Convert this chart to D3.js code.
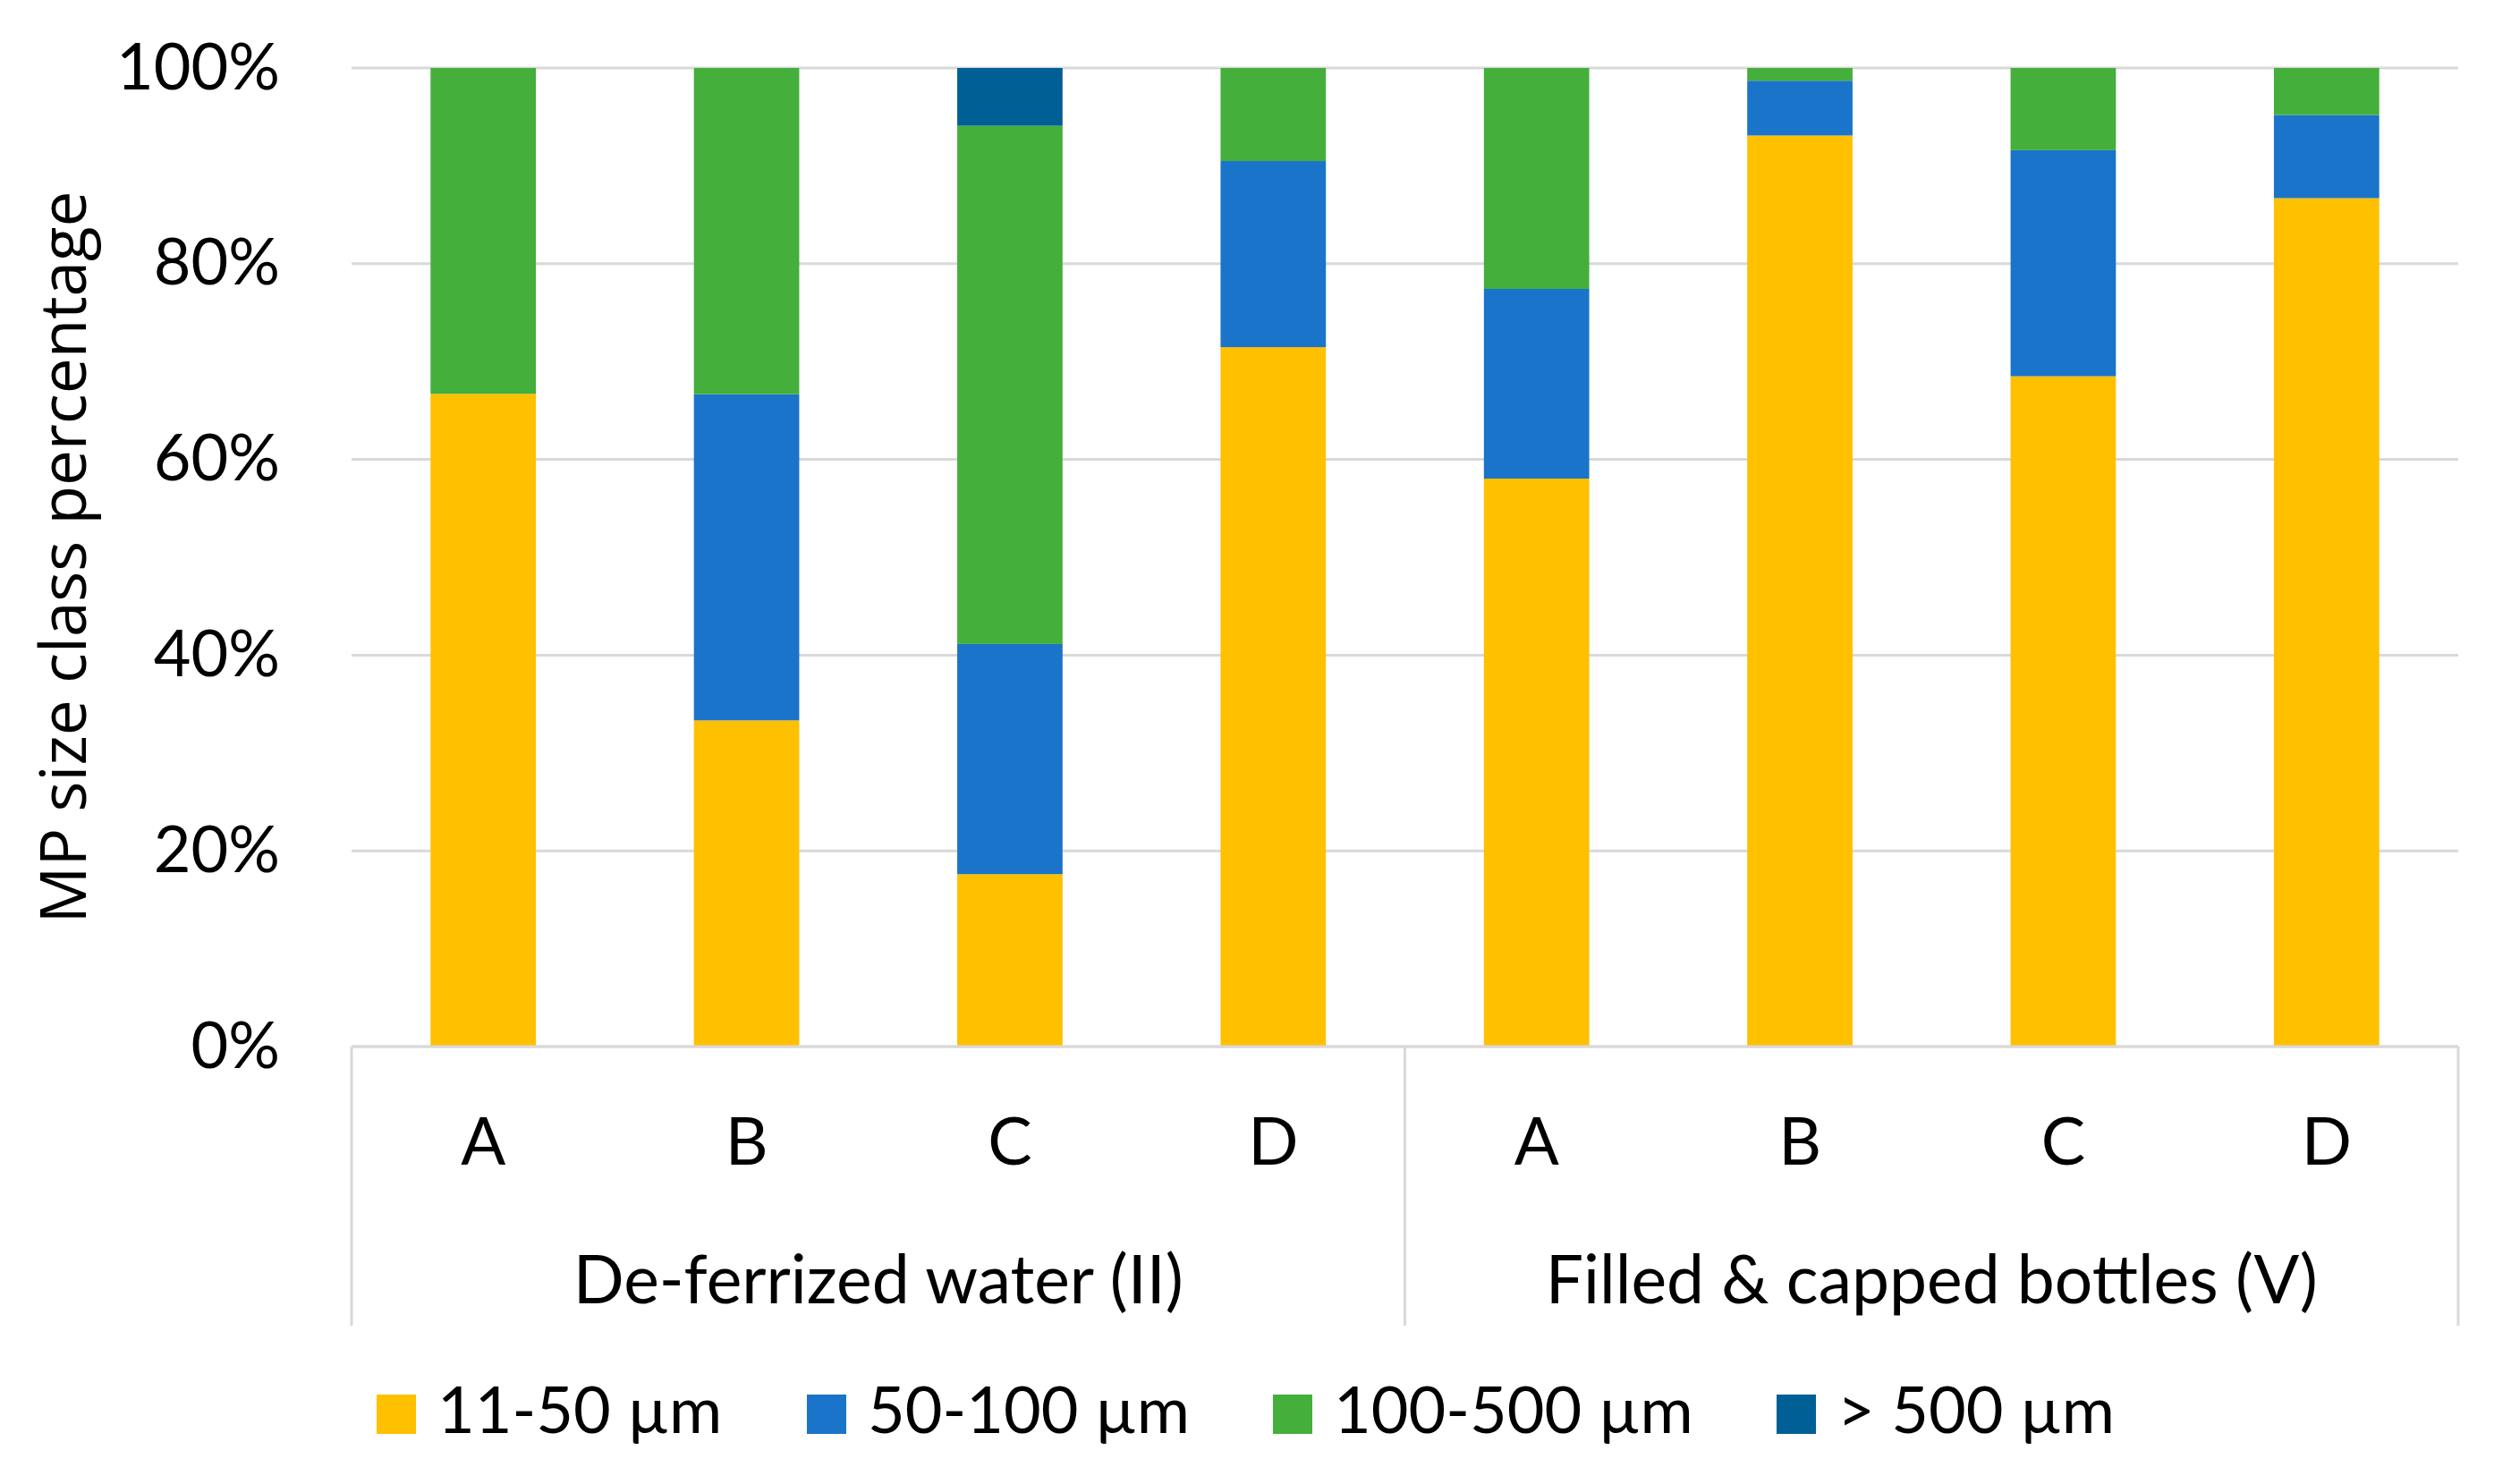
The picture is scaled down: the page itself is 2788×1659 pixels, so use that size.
<!DOCTYPE html>
<html>
<head>
<meta charset="utf-8">
<script src="https://cdn.jsdelivr.net/npm/d3@7"></script>
<style>
  body { margin: 0; background: #fff; }
  text { font-family: Lato, "Open Sans", sans-serif; fill: #000; }
</style>
</head>
<body>
<div id="chart"></div>
<script>
// categories and groups
var categories = ["A", "B", "C", "D", "A", "B", "C", "D"];
var groups = ["De-ferrized water (II)", "Filled & capped bottles (V)"];
var sizeClasses = ["11-50 µm", "50-100 µm", "100-500 µm", "> 500 µm"];
var colors = ["#FFC000", "#1A74C9", "#44AF3B", "#005F94"];

// share of each size class per sample (%)
var s11_50   = [66.7, 33.3, 17.6, 71.4, 58.1, 93.1, 68.5, 86.7];
var s50_100  = [0,    33.3, 23.5, 19.0, 19.4,  5.6, 23.1,  8.5];
var s100_500 = [33.3, 33.3, 52.9,  9.5, 22.6,  1.3,  8.4,  4.8];
var s500     = [0,    0,     5.9,  0,    0,    0,    0,    0];

var yTicks = [0, 0.2, 0.4, 0.6, 0.8, 1];

var W = 2788, H = 1659;
var margin = { left: 393, right: 40, top: 76, bottom: 489 };

var rows = categories.map(function (c, i) {
    return { i: i, "11-50 µm": s11_50[i], "50-100 µm": s50_100[i], "100-500 µm": s100_500[i], "> 500 µm": s500[i] };
});

var svg = d3.select("#chart").append("svg")
    .attr("width", W)
    .attr("height", H);

var x = d3.scaleBand()
    .domain(d3.range(categories.length))
    .range([margin.left, W - margin.right])
    .paddingInner(0.6)
    .paddingOuter(0.3);

var y = d3.scaleLinear()
    .domain([0, 1])
    .range([H - margin.bottom, margin.top]);

var stack = d3.stack()
    .keys(sizeClasses)
    .offset(d3.stackOffsetExpand);
var series = stack(rows);

// gridlines
svg.append("g")
    .selectAll("line")
    .data(yTicks)
    .enter().append("line")
    .attr("x1", margin.left)
    .attr("x2", W - margin.right)
    .attr("y1", function (d) { return y(d); })
    .attr("y2", function (d) { return y(d); })
    .attr("stroke", "#D9D9D9")
    .attr("stroke-width", 3);

// bars
svg.append("g")
    .selectAll("g")
    .data(series)
    .enter().append("g")
    .attr("fill", function (d, k) { return colors[k]; })
    .selectAll("rect")
    .data(function (d) { return d; })
    .enter().append("rect")
    .attr("x", function (d) { return x(d.data.i); })
    .attr("width", x.bandwidth())
    .attr("y", function (d) { return y(d[1]); })
    .attr("height", function (d) { return y(d[0]) - y(d[1]); });

// y axis labels
var yAxis = d3.axisLeft(y)
    .tickValues(yTicks)
    .tickFormat(d3.format(".0%"))
    .tickSize(0)
    .tickPadding(80);
var yg = svg.append("g")
    .attr("transform", "translate(" + margin.left + ",0)")
    .call(yAxis);
yg.select(".domain").remove();
yg.selectAll("text")
    .style("font-size", "72px")
    .style("font-family", "Lato, sans-serif");

// y title
svg.append("text")
    .attr("transform", "translate(96," + (y(0.5)) + ") rotate(-90)")
    .attr("text-anchor", "middle")
    .style("font-family", "'Open Sans', sans-serif")
    .style("font-size", "71px")
    .text("MP size class percentage");

// category axis: base line and group separators
var axisBottom = 1482;
var step = x.step();
var sepX = [x(0) - step * 0.3, (x(3) + x.bandwidth() + x(4)) / 2, x(7) + x.bandwidth() + step * 0.3];

svg.append("line")
    .attr("x1", margin.left).attr("x2", W - margin.right)
    .attr("y1", y(0)).attr("y2", y(0))
    .attr("stroke", "#D9D9D9").attr("stroke-width", 3);

svg.append("g")
    .selectAll("line")
    .data(sepX)
    .enter().append("line")
    .attr("x1", function (d) { return d; })
    .attr("x2", function (d) { return d; })
    .attr("y1", y(0))
    .attr("y2", axisBottom)
    .attr("stroke", "#D9D9D9")
    .attr("stroke-width", 3);

svg.append("g")
    .selectAll("text")
    .data(categories)
    .enter().append("text")
    .attr("x", function (d, i) { return x(i) + x.bandwidth() / 2; })
    .attr("y", 1302)
    .attr("text-anchor", "middle")
    .style("font-size", "74px")
    .text(function (d) { return d; });

svg.append("g")
    .selectAll("text")
    .data(groups)
    .enter().append("text")
    .attr("x", function (d, g) { return (sepX[g] + sepX[g + 1]) / 2; })
    .attr("y", 1457)
    .attr("text-anchor", "middle")
    .style("font-size", "75px")
    .text(function (d) { return d; });

// legend
var legendX = [421, 902, 1423, 1986];
var leg = svg.append("g")
    .selectAll("g")
    .data(sizeClasses)
    .enter().append("g")
    .attr("transform", function (d, k) { return "translate(" + legendX[k] + ",1559)"; });
leg.append("rect")
    .attr("width", 44)
    .attr("height", 44)
    .attr("fill", function (d, k) { return colors[k]; });
leg.append("text")
    .attr("x", 68)
    .attr("y", 43)
    .style("font-size", "72px")
    .text(function (d) { return d; });
</script>
</body>
</html>
